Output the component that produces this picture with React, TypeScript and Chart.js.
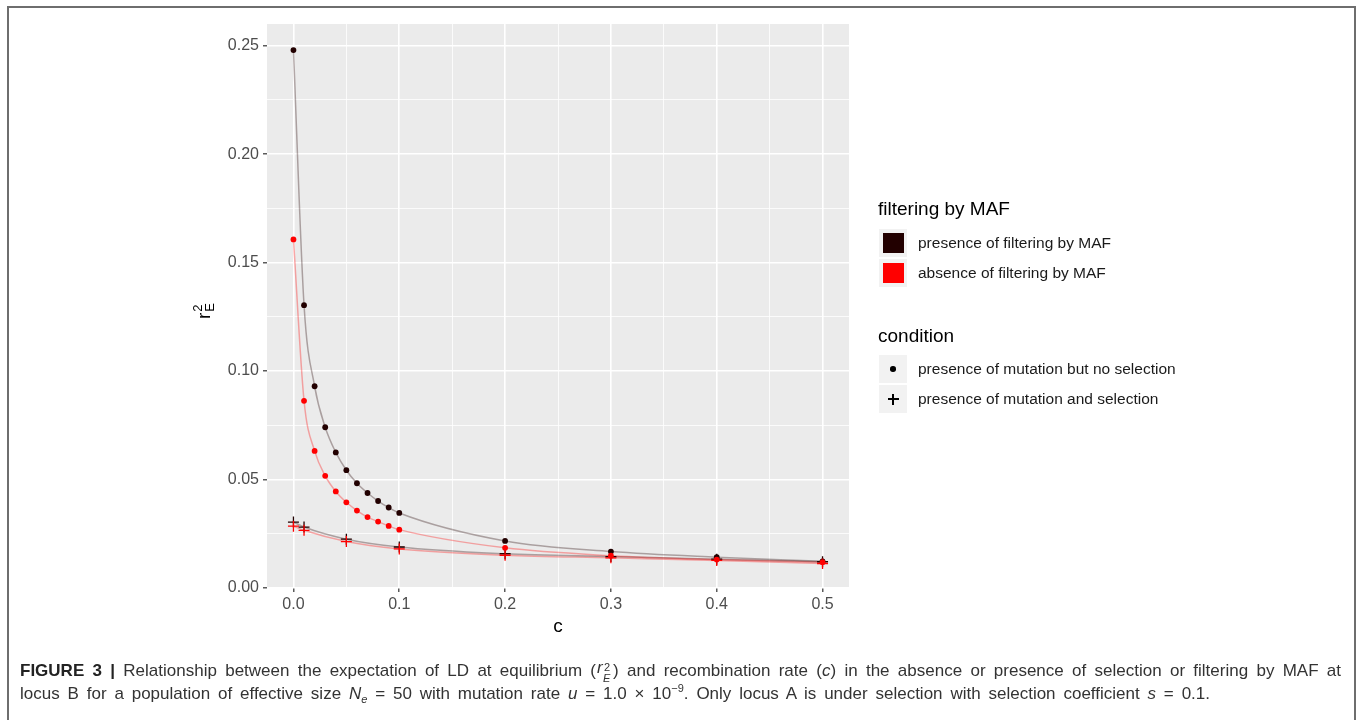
import React, { useEffect, useRef } from "react";
import { Chart, registerables } from "chart.js";
Chart.register(...registerables);

const FONT = '"Liberation Sans", Arial, Helvetica, sans-serif';

// recombination rate c
const cNoSelection = [0, 0.01, 0.02, 0.03, 0.04, 0.05, 0.06, 0.07, 0.08, 0.09, 0.1, 0.2, 0.3, 0.4, 0.5];
const presenceFilterNoSelection = [0.248, 0.1304, 0.093, 0.0741, 0.0625, 0.0543, 0.0483, 0.0438, 0.0401, 0.0371, 0.0346, 0.0217, 0.0168, 0.0142, 0.0123];
const absenceFilterNoSelection = [0.1607, 0.0863, 0.0632, 0.0517, 0.0445, 0.0395, 0.0357, 0.0327, 0.0306, 0.0286, 0.0269, 0.0185, 0.0149, 0.0131, 0.0119];
const cSelection = [0, 0.01, 0.05, 0.1, 0.2, 0.3, 0.4, 0.5];
const presenceFilterSelection = [0.0304, 0.0281, 0.0225, 0.0189, 0.0158, 0.0145, 0.0133, 0.0121];
const absenceFilterSelection = [0.0285, 0.0266, 0.0214, 0.018, 0.0151, 0.0139, 0.0127, 0.0113];

const xMajorTicks = [0, 0.1, 0.2, 0.3, 0.4, 0.5];
const xMinorTicks = [0.05, 0.15, 0.25, 0.35, 0.45];
const yMajorTicks = [0, 0.05, 0.1, 0.15, 0.2, 0.25];
const yMinorTicks = [0.025, 0.075, 0.125, 0.175, 0.225];

const DARK = "#220000";
const RED = "#ff0000";
const DARK_LINE = "rgba(34,0,0,0.32)";
const RED_LINE = "rgba(255,0,0,0.32)";

const isIn = (arr: number[], v: number) => arr.some((a) => Math.abs(a - v) < 1e-9);
const pts = (xs: number[], ys: number[]) => xs.map((x, i) => ({ x, y: ys[i] }));

const panelBg = {
  id: "panelBg",
  beforeDraw(chart: any) {
    const { ctx, chartArea } = chart;
    ctx.save();
    ctx.fillStyle = "#ebebeb";
    ctx.fillRect(chartArea.left, chartArea.top, chartArea.right - chartArea.left, chartArea.bottom - chartArea.top);
    ctx.restore();
  },
};

function ChartCanvas() {
  const ref = useRef<HTMLCanvasElement | null>(null);
  useEffect(() => {
    if (!ref.current) return;
    const lineDs = (data: any, color: string) => ({
      data,
      showLine: true,
      borderColor: color,
      borderWidth: 1.5,
      pointRadius: 0,
      cubicInterpolationMode: "monotone",
      order: 10,
    });
    const dotDs = (data: any, color: string, order: number) => ({
      data,
      showLine: false,
      pointStyle: "circle",
      pointRadius: 2.9,
      pointBorderWidth: 0,
      backgroundColor: color,
      borderColor: color,
      order,
    });
    const crossDs = (data: any, color: string, order: number) => ({
      data,
      showLine: false,
      pointStyle: "cross",
      pointRadius: 5.5,
      pointBorderWidth: 1.3,
      backgroundColor: color,
      borderColor: color,
      order,
    });
    const chart = new Chart(ref.current, {
      type: "scatter",
      data: {
        datasets: [
          lineDs(pts(cNoSelection, presenceFilterNoSelection), DARK_LINE),
          lineDs(pts(cNoSelection, absenceFilterNoSelection), RED_LINE),
          lineDs(pts(cSelection, presenceFilterSelection), DARK_LINE),
          lineDs(pts(cSelection, absenceFilterSelection), RED_LINE),
          crossDs(pts(cSelection, presenceFilterSelection), DARK, 4),
          crossDs(pts(cSelection, absenceFilterSelection), RED, 3),
          dotDs(pts(cNoSelection, presenceFilterNoSelection), DARK, 2),
          dotDs(pts(cNoSelection, absenceFilterNoSelection), RED, 1),
        ] as any,
      },
      options: {
        animation: false,
        responsive: false,
        devicePixelRatio: 1,
        layout: { padding: { left: 150, right: 511, top: 24, bottom: 12 } },
        plugins: { legend: { display: false }, tooltip: { enabled: false } },
        scales: {
          x: {
            type: "linear",
            min: -0.025,
            max: 0.525,
            afterBuildTicks: (s: any) => {
              s.ticks = [...xMajorTicks, ...xMinorTicks].sort((a, b) => a - b).map((v) => ({ value: v }));
            },
            afterFit: (s: any) => {
              s.height = 120;
            },
            border: { display: false },
            grid: {
              color: "#ffffff",
              lineWidth: (c: any) => (c.tick && isIn(xMajorTicks, c.tick.value) ? 1.6 : 0.8),
              tickColor: (c: any) => (c.tick && isIn(xMajorTicks, c.tick.value) ? "#333333" : "rgba(0,0,0,0)"),
              tickLength: 4,
              tickWidth: 1.2,
            },
            ticks: {
              autoSkip: false,
              maxRotation: 0,
              padding: 3,
              color: "#4d4d4d",
              font: { family: FONT, size: 16 },
              callback: (v: any) => (isIn(xMajorTicks, Number(v)) ? Number(v).toFixed(1) : ""),
            },
          },
          y: {
            type: "linear",
            min: 0,
            max: 0.26,
            afterBuildTicks: (s: any) => {
              s.ticks = [...yMajorTicks, ...yMinorTicks].sort((a, b) => a - b).map((v) => ({ value: v }));
            },
            afterFit: (s: any) => {
              s.width = 117;
            },
            border: { display: false },
            grid: {
              color: "#ffffff",
              lineWidth: (c: any) => (c.tick && isIn(yMajorTicks, c.tick.value) ? 1.6 : 0.8),
              tickColor: (c: any) => (c.tick && isIn(yMajorTicks, c.tick.value) ? "#333333" : "rgba(0,0,0,0)"),
              tickLength: 4,
              tickWidth: 1.2,
            },
            ticks: {
              autoSkip: false,
              padding: 4,
              color: "#4d4d4d",
              font: { family: FONT, size: 16 },
              callback: (v: any) => (isIn(yMajorTicks, Number(v)) ? Number(v).toFixed(2) : ""),
            },
          },
        },
      },
      plugins: [panelBg],
    } as any);
    return () => chart.destroy();
  }, []);
  return <canvas ref={ref} width={1360} height={720} style={{ position: "absolute", left: 0, top: 0, width: 1360, height: 720 }} />;
}

const keyBox: React.CSSProperties = {
  position: "absolute",
  left: 879,
  width: 28,
  height: 28,
  background: "#f2f2f2",
  display: "flex",
  alignItems: "center",
  justifyContent: "center",
};
const itemText: React.CSSProperties = {
  position: "absolute",
  left: 918,
  fontSize: 15.5,
  lineHeight: "28px",
  color: "#1a1a1a",
  whiteSpace: "nowrap",
};
const titleText: React.CSSProperties = {
  position: "absolute",
  left: 878,
  fontSize: 19,
  lineHeight: "22px",
  color: "#000",
  whiteSpace: "nowrap",
};

function Legend() {
  return (
    <>
      <div style={{ ...titleText, top: 198 }}>filtering by MAF</div>
      <div style={{ ...keyBox, top: 229 }}>
        <div style={{ width: 21, height: 20, background: DARK }} />
      </div>
      <div style={{ ...itemText, top: 229 }}>presence of filtering by MAF</div>
      <div style={{ ...keyBox, top: 259 }}>
        <div style={{ width: 21, height: 20, background: RED }} />
      </div>
      <div style={{ ...itemText, top: 259 }}>absence of filtering by MAF</div>

      <div style={{ ...titleText, top: 325 }}>condition</div>
      <div style={{ ...keyBox, top: 355 }}>
        <div style={{ width: 5.5, height: 5.5, borderRadius: "50%", background: "#000" }} />
      </div>
      <div style={{ ...itemText, top: 355 }}>presence of mutation but no selection</div>
      <div style={{ ...keyBox, top: 385 }}>
        <div style={{ position: "relative", width: 11, height: 11 }}>
          <div style={{ position: "absolute", left: 0, top: 4.9, width: 11, height: 1.3, background: "#000" }} />
          <div style={{ position: "absolute", left: 4.9, top: 0, width: 1.3, height: 11, background: "#000" }} />
        </div>
      </div>
      <div style={{ ...itemText, top: 385 }}>presence of mutation and selection</div>
    </>
  );
}

const captionLine: React.CSSProperties = {
  position: "absolute",
  left: 20,
  fontSize: 17,
  lineHeight: "22px",
  height: 22,
  color: "#333",
  textAlign: "justify",
  textAlignLast: "justify" as any,
  whiteSpace: "normal",
};

export default function App() {
  return (
    <div style={{ position: "absolute", left: 0, top: 0, width: 1360, height: 720, overflow: "hidden", background: "#fff", fontFamily: FONT }}>
      <ChartCanvas />
      {/* y-axis title */}
      <div
        style={{
          position: "absolute",
          left: 204,
          top: 311,
          transform: "translate(-50%, -50%) rotate(-90deg)",
          display: "flex",
          alignItems: "center",
          color: "#000",
          whiteSpace: "nowrap",
        }}
      >
        <span style={{ fontSize: 19, lineHeight: "20px" }}>r</span>
        <span style={{ display: "inline-flex", flexDirection: "column", fontSize: 13, lineHeight: "12px", marginLeft: 1 }}>
          <span>2</span>
          <span>E</span>
        </span>
      </div>
      {/* x-axis title */}
      <div style={{ position: "absolute", left: 558, top: 616, transform: "translateX(-50%)", fontSize: 19, lineHeight: "19px", color: "#000" }}>c</div>
      <Legend />
      {/* caption */}
      <div style={{ ...captionLine, top: 660, width: 1321 }}>
        <b style={{ color: "#222" }}>FIGURE 3 |</b> Relationship between the expectation of LD at equilibrium (
        <span style={{ display: "inline-block", position: "relative", width: 17, height: 14, verticalAlign: "baseline" }}>
          <i style={{ position: "absolute", left: 1, bottom: -3 }}>r</i>
          <span style={{ position: "absolute", left: 8, top: -6, fontSize: 11 }}>2</span>
          <i style={{ position: "absolute", left: 7, top: 5, fontSize: 11 }}>E</i>
        </span>
        ) and recombination rate (<i>c</i>) in the absence or presence of selection or filtering by MAF at
      </div>
      <div style={{ ...captionLine, top: 682.5, width: 1190 }}>
        locus B for a population of effective size <i>N</i>
        <sub style={{ fontSize: 11, lineHeight: 0 }}>
          <i>e</i>
        </sub>{" "}
        = 50 with mutation rate <i>u</i> = 1.0 × 10<sup style={{ fontSize: 11, lineHeight: 0 }}>−9</sup>. Only locus A is under selection with selection coefficient <i>s</i> = 0.1.
      </div>
      {/* frame */}
      <div style={{ position: "absolute", left: 7, top: 6, width: 1349, height: 740, border: "2px solid #6e6e6e", boxSizing: "border-box", pointerEvents: "none" }} />
    </div>
  );
}
